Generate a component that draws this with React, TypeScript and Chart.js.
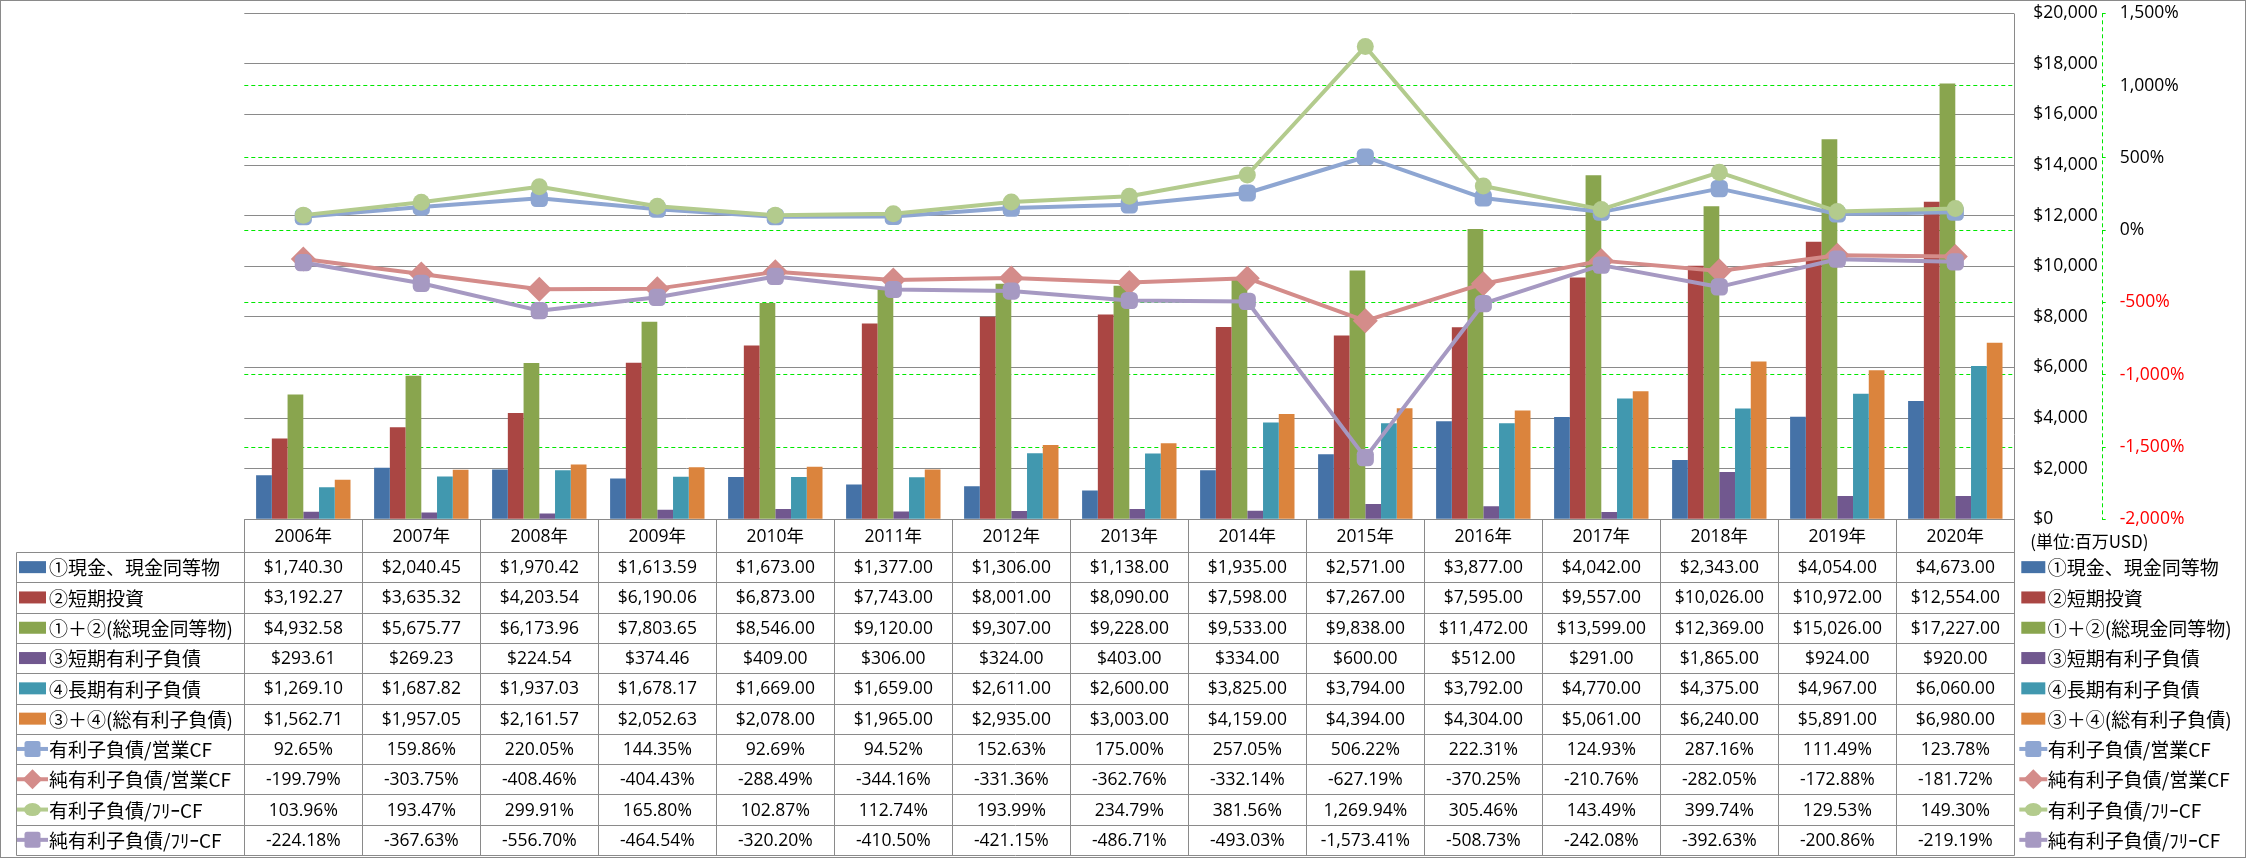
import React, { useEffect, useRef } from 'react';
import { Chart, registerables } from 'chart.js';

Chart.register(...registerables);

// ---------------- data ----------------
const years = ['2006年', '2007年', '2008年', '2009年', '2010年', '2011年', '2012年', '2013年', '2014年', '2015年', '2016年', '2017年', '2018年', '2019年', '2020年'];

const cashEquiv = [1740.30, 2040.45, 1970.42, 1613.59, 1673.00, 1377.00, 1306.00, 1138.00, 1935.00, 2571.00, 3877.00, 4042.00, 2343.00, 4054.00, 4673.00];
const shortInvest = [3192.27, 3635.32, 4203.54, 6190.06, 6873.00, 7743.00, 8001.00, 8090.00, 7598.00, 7267.00, 7595.00, 9557.00, 10026.00, 10972.00, 12554.00];
const totalCash = [4932.58, 5675.77, 6173.96, 7803.65, 8546.00, 9120.00, 9307.00, 9228.00, 9533.00, 9838.00, 11472.00, 13599.00, 12369.00, 15026.00, 17227.00];
const shortDebt = [293.61, 269.23, 224.54, 374.46, 409.00, 306.00, 324.00, 403.00, 334.00, 600.00, 512.00, 291.00, 1865.00, 924.00, 920.00];
const longDebt = [1269.10, 1687.82, 1937.03, 1678.17, 1669.00, 1659.00, 2611.00, 2600.00, 3825.00, 3794.00, 3792.00, 4770.00, 4375.00, 4967.00, 6060.00];
const totalDebt = [1562.71, 1957.05, 2161.57, 2052.63, 2078.00, 1965.00, 2935.00, 3003.00, 4159.00, 4394.00, 4304.00, 5061.00, 6240.00, 5891.00, 6980.00];

const debtOpCF = [92.65, 159.86, 220.05, 144.35, 92.69, 94.52, 152.63, 175.00, 257.05, 506.22, 222.31, 124.93, 287.16, 111.49, 123.78];
const netDebtOpCF = [-199.79, -303.75, -408.46, -404.43, -288.49, -344.16, -331.36, -362.76, -332.14, -627.19, -370.25, -210.76, -282.05, -172.88, -181.72];
const debtFreeCF = [103.96, 193.47, 299.91, 165.80, 102.87, 112.74, 193.99, 234.79, 381.56, 1269.94, 305.46, 143.49, 399.74, 129.53, 149.30];
const netDebtFreeCF = [-224.18, -367.63, -556.70, -464.54, -320.20, -410.50, -421.15, -486.71, -493.03, -1573.41, -508.73, -242.08, -392.63, -200.86, -219.19];

const barLabels = ['①現金、現金同等物', '②短期投資', '①＋②(総現金同等物)', '③短期有利子負債', '④長期有利子負債', '③＋④(総有利子負債)'];
const lineLabels = ['有利子負債/営業CF', '純有利子負債/営業CF', '有利子負債/ﾌﾘｰCF', '純有利子負債/ﾌﾘｰCF'];

const dollarTicks = { min: 0, max: 20000, step: 2000 };
const pctTicks = { min: -2000, max: 1500, step: 500 };
const unitLabel = '(単位:百万USD)';

// ---------------- styles ----------------
const W = 2246;
const H = 858;
const barColors = ['#4572A7', '#AA4643', '#89A54E', '#71588F', '#4198AF', '#DB843D'];
const lineColors = ['#8EA6D2', '#D48C8A', '#B3CB8D', '#A699C2'];
const lineShapes = ['square', 'diamond', 'circle', 'square'];
const GRAY = '#8A8A8A';
const GREEN = '#00E800';
const DASH = [4, 3];
const NUM_FONT = "17.5px 'Open Sans', 'Noto Sans CJK JP'";
const LABEL_FONT = "19px 'Noto Sans CJK JP'";
const UNIT_FONT = "17px 'Noto Sans CJK JP'";

const PLOT_LEFT = 244.3;
const PLOT_TOP = 13.3;
const PLOT_BOTTOM = 519.3;
const Y_AXIS_W = 87.4;
const Y1_AXIS_W = W - (2014.3 + 87.4);
const HEADER_H = 32.7;
const ROW_H = 30.3;
const TABLE_LEFT = 16;

const fmt2 = (v: number) => v.toLocaleString('en-US', { minimumFractionDigits: 2, maximumFractionDigits: 2 });

function drawMarker(ctx: CanvasRenderingContext2D, shape: string, x: number, y: number, size: number, color: string) {
  ctx.save();
  ctx.fillStyle = color;
  ctx.beginPath();
  if (shape === 'square') {
    const h = size / 2;
    const r = 2.5;
    ctx.moveTo(x - h + r, y - h);
    ctx.arcTo(x + h, y - h, x + h, y + h, r);
    ctx.arcTo(x + h, y + h, x - h, y + h, r);
    ctx.arcTo(x - h, y + h, x - h, y - h, r);
    ctx.arcTo(x - h, y - h, x + h, y - h, r);
  } else if (shape === 'diamond') {
    const h = size / 2;
    ctx.moveTo(x, y - h);
    ctx.lineTo(x + h, y);
    ctx.lineTo(x, y + h);
    ctx.lineTo(x - h, y);
  } else {
    ctx.ellipse(x, y, size / 2 + 1, size / 2 - 1, 0, 0, Math.PI * 2);
  }
  ctx.closePath();
  ctx.fill();
  ctx.restore();
}

function drawLegendIcon(ctx: CanvasRenderingContext2D, idx: number, x0: number, x1: number, cy: number) {
  if (idx < 6) {
    ctx.fillStyle = barColors[idx];
    ctx.fillRect(x0 + 2, cy - 6, x1 - x0 - 4, 12);
  } else {
    const li = idx - 6;
    ctx.save();
    ctx.strokeStyle = lineColors[li];
    ctx.lineWidth = 4;
    ctx.beginPath();
    ctx.moveTo(x0, cy);
    ctx.lineTo(x1, cy);
    ctx.stroke();
    ctx.restore();
    const shape = lineShapes[li];
    const size = shape === 'diamond' ? 20 : shape === 'circle' ? 15 : 16;
    drawMarker(ctx, shape, (x0 + x1) / 2, cy, size, lineColors[li]);
  }
}

const tablePlugin = {
  id: 'excelTable',
  beforeDraw(chart: any) {
    const ctx = chart.ctx as CanvasRenderingContext2D;
    ctx.save();
    ctx.fillStyle = '#FFFFFF';
    ctx.fillRect(0, 0, W, H);
    ctx.restore();
  },
  afterDraw(chart: any) {
    const ctx = chart.ctx as CanvasRenderingContext2D;
    const ca = chart.chartArea;
    const xs = chart.scales.x;
    const y1s = chart.scales.y1;
    const n = years.length;
    const colW = (ca.right - ca.left) / n;
    const rowsData = [cashEquiv, shortInvest, totalCash, shortDebt, longDebt, totalDebt, debtOpCF, netDebtOpCF, debtFreeCF, netDebtFreeCF];
    const rowLabels = [...barLabels, ...lineLabels];
    const top = ca.bottom;
    const rowsTop = top + HEADER_H;
    const bottom = rowsTop + ROW_H * rowsData.length;
    const px = (v: number) => Math.round(v) + 0.5;

    ctx.save();
    // grid of the data table
    ctx.strokeStyle = GRAY;
    ctx.lineWidth = 1;
    ctx.beginPath();
    ctx.moveTo(px(ca.left), px(top));
    ctx.lineTo(px(ca.right), px(top));
    for (let r = 0; r <= rowsData.length; r++) {
      const y = px(rowsTop + r * ROW_H);
      ctx.moveTo(px(TABLE_LEFT), y);
      ctx.lineTo(px(ca.right), y);
    }
    ctx.moveTo(px(TABLE_LEFT), px(rowsTop));
    ctx.lineTo(px(TABLE_LEFT), px(bottom));
    for (let i = 0; i < n; i++) {
      const x = px(ca.left + i * colW);
      ctx.moveTo(x, px(top));
      ctx.lineTo(x, px(bottom));
    }
    ctx.moveTo(px(ca.right), px(ca.top));
    ctx.lineTo(px(ca.right), px(bottom));
    ctx.stroke();

    // dashed green secondary axis line
    ctx.strokeStyle = GREEN;
    ctx.setLineDash(DASH);
    ctx.beginPath();
    ctx.moveTo(px(y1s.left), ca.top);
    ctx.lineTo(px(y1s.left), ca.bottom);
    ctx.stroke();
    ctx.setLineDash([]);

    // outer border
    ctx.strokeStyle = GRAY;
    ctx.strokeRect(0.5, 0.5, W - 1, H - 1);

    // header
    ctx.fillStyle = '#000000';
    ctx.textAlign = 'center';
    ctx.textBaseline = 'middle';
    ctx.font = NUM_FONT;
    for (let i = 0; i < n; i++) {
      ctx.fillText(years[i], xs.getPixelForValue(i), top + HEADER_H / 2 + 1);
    }

    // rows
    for (let r = 0; r < rowsData.length; r++) {
      const cy = rowsTop + ROW_H * (r + 0.5);
      const isPct = r >= 6;
      ctx.font = NUM_FONT;
      ctx.textAlign = 'center';
      ctx.fillStyle = '#000000';
      for (let i = 0; i < n; i++) {
        const v = rowsData[r][i];
        const txt = isPct ? fmt2(v) + '%' : '$' + fmt2(v);
        ctx.fillText(txt, xs.getPixelForValue(i), cy + 1);
      }
      // table label with key
      drawLegendIcon(ctx, r, 17, 48, cy);
      ctx.font = LABEL_FONT;
      ctx.textAlign = 'left';
      ctx.fillStyle = '#000000';
      ctx.fillText(rowLabels[r], 49, cy + 1);
      // right legend
      drawLegendIcon(ctx, r, ca.right + 5, ca.right + 33, cy);
      ctx.font = LABEL_FONT;
      ctx.fillStyle = '#000000';
      ctx.fillText(rowLabels[r], ca.right + 33.5, cy + 1);
    }

    // unit label
    ctx.font = UNIT_FONT;
    ctx.textAlign = 'left';
    ctx.fillText(unitLabel, ca.right + 16, top + 22);
    ctx.restore();
  },
};

export default function App() {
  const ref = useRef<HTMLCanvasElement>(null);

  useEffect(() => {
    document.body.style.margin = '0';
    document.body.style.overflow = 'hidden';
    const canvas = ref.current;
    if (!canvas) return;

    const barData = [cashEquiv, shortInvest, totalCash, shortDebt, longDebt, totalDebt];
    const lineData = [debtOpCF, netDebtOpCF, debtFreeCF, netDebtFreeCF];
    const pointStyles = ['rectRounded', 'rectRot', 'circle', 'rectRounded'];
    const pointRadii = [10, 12.5, 8.5, 10];

    const datasets: any[] = [
      ...barData.map((d, i) => ({
        type: 'bar',
        label: barLabels[i],
        data: d,
        backgroundColor: barColors[i],
        borderWidth: 0,
        yAxisID: 'y',
        order: 10 + i,
        categoryPercentage: 0.8,
        barPercentage: 1,
      })),
      ...lineData.map((d, i) => ({
        type: 'line',
        label: lineLabels[i],
        data: d,
        borderColor: lineColors[i],
        backgroundColor: lineColors[i],
        borderWidth: 4,
        borderJoinStyle: 'round',
        borderCapStyle: 'round',
        tension: 0,
        pointStyle: pointStyles[i],
        pointRadius: pointRadii[i],
        pointBorderWidth: 0,
        pointBackgroundColor: lineColors[i],
        yAxisID: 'y1',
        order: 4 - i,
        fill: false,
      })),
    ];

    const fixAxis = (width: number) => (s: any) => {
      s.width = width;
      s.paddingTop = 0;
      s.paddingBottom = 0;
    };

    const chart = new Chart(canvas, {
      type: 'bar',
      data: { labels: years, datasets },
      options: {
        responsive: false,
        animation: false,
        devicePixelRatio: 1,
        layout: {
          padding: { left: PLOT_LEFT, top: PLOT_TOP, right: 0, bottom: H - PLOT_BOTTOM },
        },
        plugins: {
          legend: { display: false },
          tooltip: { enabled: false },
        },
        scales: {
          x: {
            type: 'category',
            display: false,
            offset: true,
            grid: { display: false },
          },
          y: {
            type: 'linear',
            position: 'right',
            weight: 0,
            min: dollarTicks.min,
            max: dollarTicks.max,
            ticks: {
              stepSize: dollarTicks.step,
              autoSkip: false,
              padding: 19,
              color: '#000000',
              font: { family: "'Open Sans'", size: 17.5 },
              callback: (v: any) => '$' + Number(v).toLocaleString('en-US'),
            },
            grid: { color: GRAY, lineWidth: 1, drawTicks: false },
            border: { display: false },
            afterFit: fixAxis(Y_AXIS_W),
          },
          y1: {
            type: 'linear',
            position: 'right',
            weight: 1,
            min: pctTicks.min,
            max: pctTicks.max,
            ticks: {
              stepSize: pctTicks.step,
              autoSkip: false,
              padding: 14,
              font: { family: "'Open Sans'", size: 17.5 },
              color: (c: any) => (c.tick && c.tick.value < 0 ? '#FF0000' : '#000000'),
              callback: (v: any) => Number(v).toLocaleString('en-US') + '%',
            },
            grid: {
              drawOnChartArea: true,
              drawTicks: true,
              tickLength: 4,
              tickColor: GREEN,
              lineWidth: 1,
              color: (c: any) =>
                c.tick && (c.tick.value === pctTicks.max || c.tick.value === pctTicks.min) ? 'rgba(0,0,0,0)' : GREEN,
            },
            border: { display: false, dash: DASH },
            afterFit: fixAxis(Y1_AXIS_W),
          },
        },
      } as any,
      plugins: [tablePlugin],
    });

    return () => chart.destroy();
  }, []);

  return (
    <canvas
      ref={ref}
      width={W}
      height={H}
      style={{ display: 'block', width: W + 'px', height: H + 'px' }}
    />
  );
}
